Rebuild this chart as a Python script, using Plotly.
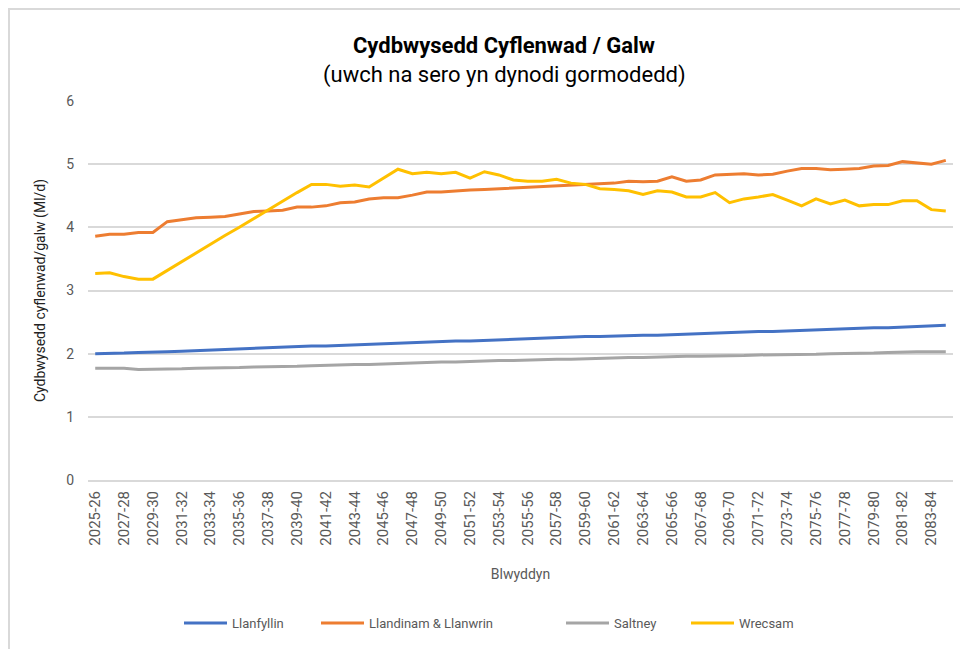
import plotly.graph_objects as go

years = [f"{y}-{str(y + 1)[-2:]}" for y in range(2025, 2085)]

llanfyllin = [2.00, 2.00, 2.01, 2.02, 2.02, 2.03, 2.04, 2.05, 2.06, 2.07,
              2.07, 2.08, 2.09, 2.10, 2.11, 2.12, 2.12, 2.13, 2.14, 2.15,
              2.16, 2.16, 2.17, 2.18, 2.19, 2.20, 2.20, 2.21, 2.22, 2.23,
              2.23, 2.24, 2.25, 2.26, 2.27, 2.27, 2.28, 2.28, 2.29, 2.29,
              2.30, 2.31, 2.32, 2.33, 2.33, 2.34, 2.35, 2.35, 2.36, 2.37,
              2.38, 2.39, 2.40, 2.40, 2.41, 2.41, 2.42, 2.43, 2.44, 2.45]

llandinam = [3.86, 3.89, 3.89, 3.92, 3.92, 4.09, 4.12, 4.15, 4.16, 4.17,
             4.21, 4.25, 4.26, 4.27, 4.32, 4.32, 4.34, 4.39, 4.40, 4.45,
             4.47, 4.47, 4.51, 4.56, 4.56, 4.58, 4.59, 4.60, 4.61, 4.63,
             4.64, 4.64, 4.65, 4.66, 4.67, 4.69, 4.70, 4.73, 4.72, 4.73,
             4.80, 4.73, 4.75, 4.83, 4.84, 4.85, 4.83, 4.84, 4.89, 4.93,
             4.93, 4.91, 4.92, 4.93, 4.97, 4.98, 5.04, 5.02, 5.00, 5.06]

saltney = [1.77, 1.77, 1.77, 1.75, 1.75, 1.75, 1.76, 1.77, 1.77, 1.77,
           1.78, 1.79, 1.79, 1.80, 1.80, 1.81, 1.82, 1.83, 1.83, 1.83,
           1.84, 1.85, 1.85, 1.86, 1.87, 1.87, 1.88, 1.88, 1.89, 1.89,
           1.90, 1.90, 1.91, 1.91, 1.92, 1.93, 1.93, 1.94, 1.94, 1.95,
           1.95, 1.96, 1.96, 1.96, 1.97, 1.97, 1.98, 1.98, 1.99, 1.99,
           1.99, 2.00, 2.00, 2.00, 2.01, 2.02, 2.03, 2.03, 2.03, 2.03]

wrecsam = [3.27, 3.28, 3.22, 3.18, 3.18, 3.32, 3.46, 3.59, 3.73, 3.87,
           4.00, 4.14, 4.27, 4.41, 4.55, 4.68, 4.68, 4.65, 4.67, 4.64,
           4.78, 4.92, 4.85, 4.87, 4.85, 4.87, 4.78, 4.88, 4.83, 4.75,
           4.73, 4.73, 4.76, 4.70, 4.68, 4.61, 4.60, 4.58, 4.52, 4.58,
           4.56, 4.48, 4.48, 4.55, 4.39, 4.45, 4.48, 4.52, 4.43, 4.34,
           4.45, 4.37, 4.43, 4.34, 4.36, 4.36, 4.42, 4.42, 4.28, 4.26]

series = [
    ("Llanfyllin", llanfyllin, "#4472C4", "legend"),
    ("Llandinam & Llanwrin", llandinam, "#ED7D31", "legend2"),
    ("Saltney", saltney, "#A5A5A5", "legend3"),
    ("Wrecsam", wrecsam, "#FFC000", "legend4"),
]

FONT = "Liberation Sans Narrow, Roboto, Arial, sans-serif"
GREY = "#595959"

fig = go.Figure()
for name, vals, col, lg in series:
    fig.add_trace(go.Scatter(x=years, y=vals, name=name, mode="lines",
                             line=dict(color=col, width=3), legend=lg,
                             showlegend=True))

# page body has an 8px margin: work in reference page pixel coords
OFF = 8
W, H = 968 - OFF, 649 - OFF
L, R, T, B = 88 - OFF, 15, 101 - OFF, 169
pw, ph = W - L - R, H - T - B

def px_x(p):
    return (p - OFF - L) / pw

def px_y(p):
    return (H - B - (p - OFF)) / ph

legend_common = dict(orientation="h", yanchor="middle", xanchor="left",
                     y=px_y(623), font=dict(family=FONT, size=13, color=GREY),
                     bgcolor="rgba(0,0,0,0)", itemwidth=43)

fig.update_layout(
    width=W, height=H,
    margin=dict(l=L, r=R, t=T, b=B, autoexpand=False),
    paper_bgcolor="white", plot_bgcolor="white",
    font=dict(family=FONT, color=GREY),
    showlegend=True,
    title=dict(text="<b>Cydbwysedd Cyflenwad / Galw</b>",
               x=(504 - OFF) / W, xanchor="center", y=1 - (45 - OFF) / H,
               yanchor="middle",
               font=dict(family=FONT, size=22, color="#000000")),
    legend=dict(legend_common, x=px_x(179)),
    legend2=dict(legend_common, x=px_x(316)),
    legend3=dict(legend_common, x=px_x(561)),
    legend4=dict(legend_common, x=px_x(686)),
    xaxis=dict(type="category", range=[-0.5, len(years) - 0.5],
               tickmode="array", tickvals=years[::2], ticktext=years[::2],
               tickangle=-90, tickfont=dict(size=15, color=GREY),
               showgrid=False, showline=True, linecolor="#D9D9D9", linewidth=2,
               ticks="", zeroline=False, automargin=False,
               ticklabelstandoff=3,
               title=dict(text="Blwyddyn", font=dict(size=14, color=GREY),
                          standoff=24)),
    yaxis=dict(range=[0, 6], dtick=1, tickfont=dict(size=14, color=GREY),
               showgrid=True, gridcolor="#D9D9D9", gridwidth=2,
               zeroline=False, showline=False, ticks="",
               ticklabelstandoff=13, automargin=False,
               title=dict(text="Cydbwysedd cyflenwad/galw (Ml/d)",
                          font=dict(size=14, color="#222222"), standoff=17)),
)

fig.add_annotation(text="(uwch na sero yn dynodi gormodedd)",
                   xref="paper", yref="paper", x=px_x(504), y=px_y(75),
                   xanchor="center", yanchor="middle", showarrow=False,
                   font=dict(family=FONT, size=22, color="#000000"))

# chart frame
fig.add_shape(type="rect", xref="paper", yref="paper",
              x0=px_x(9), x1=px_x(965), y0=px_y(680), y1=px_y(9),
              line=dict(color="#D9D9D9", width=2), fillcolor="rgba(0,0,0,0)",
              layer="below")

fig.write_html("out.html")
